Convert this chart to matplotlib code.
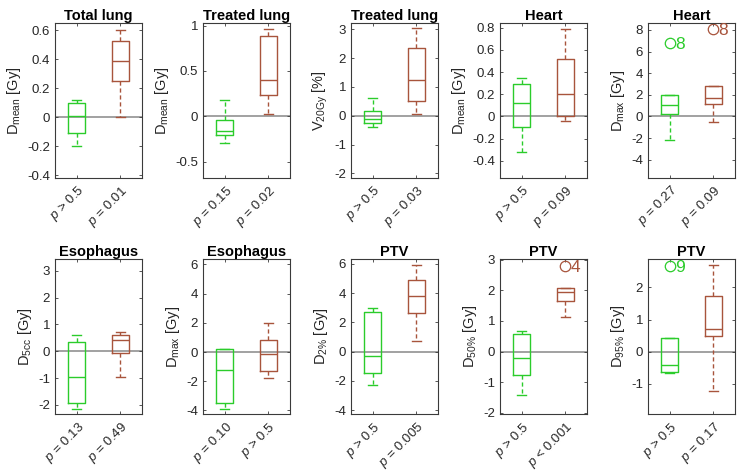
import matplotlib
matplotlib.use("Agg")
import matplotlib.pyplot as plt

plt.rcParams['font.family'] = ['Liberation Sans', 'DejaVu Sans']
plt.rcParams['mathtext.fontset'] = 'custom'
plt.rcParams['mathtext.rm'] = 'Liberation Sans'
plt.rcParams['mathtext.it'] = 'Liberation Sans:italic'
plt.rcParams['axes.unicode_minus'] = False

titles = ["Total lung", "Treated lung", "Treated lung", "Heart", "Heart",
          "Esophagus", "Esophagus", "PTV", "PTV", "PTV"]
ylabels = [r"D$_{\mathrm{mean}}$ [Gy]", r"D$_{\mathrm{mean}}$ [Gy]", r"V$_{\mathrm{20Gy}}$ [%]",
           r"D$_{\mathrm{mean}}$ [Gy]", r"D$_{\mathrm{max}}$ [Gy]",
           r"D$_{\mathrm{5cc}}$ [Gy]", r"D$_{\mathrm{max}}$ [Gy]", r"D$_{\mathrm{2\%}}$ [Gy]",
           r"D$_{\mathrm{50\%}}$ [Gy]", r"D$_{\mathrm{95\%}}$ [Gy]"]
pvals_green = ["> 0.5", "= 0.15", "> 0.5", "> 0.5", "= 0.27",
               "= 0.13", "= 0.10", "> 0.5", "> 0.5", "> 0.5"]
pvals_brown = ["= 0.01", "= 0.02", "= 0.03", "= 0.09", "= 0.09",
               "= 0.49", "> 0.5", "= 0.005", "< 0.001", "= 0.17"]

# stats: (whislo, q1, med, q3, whishi)
green_stats = [(-0.20, -0.11, 0.01, 0.097, 0.12),
               (-0.29, -0.21, -0.16, -0.04, 0.18),
               (-0.38, -0.24, -0.10, 0.15, 0.61),
               (-0.32, -0.10, 0.12, 0.29, 0.35),
               (-2.14, 0.25, 1.02, 2.0, 2.0),
               (-2.15, -1.92, -0.95, 0.35, 0.59),
               (-3.92, -3.50, -1.25, 0.20, 0.20),
               (-2.30, -1.47, -0.28, 2.74, 2.97),
               (-1.42, -0.77, -0.21, 0.56, 0.68),
               (-0.67, -0.65, -0.41, 0.43, 0.43)]
brown_stats = [(0.0, 0.25, 0.39, 0.527, 0.60),
               (0.03, 0.23, 0.395, 0.88, 0.96),
               (0.06, 0.51, 1.25, 2.35, 3.05),
               (-0.04, 0.0, 0.20, 0.52, 0.785),
               (-0.50, 1.18, 1.67, 2.85, 2.85),
               (-0.97, -0.06, 0.41, 0.59, 0.71),
               (-1.78, -1.27, -0.12, 0.83, 2.0),
               (0.71, 2.67, 3.82, 4.9, 5.95),
               (1.14, 1.66, 1.93, 2.06, 2.06),
               (-1.23, 0.50, 0.72, 1.72, 2.71)]
green_outliers = [[], [], [], [], [6.82], [], [], [], [], [2.66]]
brown_outliers = [[], [], [], [], [8.06], [], [], [], [2.78], []]
outlier_labels_green = ["", "", "", "", "8", "", "", "", "", "9"]
outlier_labels_brown = ["", "", "", "", "8", "", "", "", "4", ""]

ylims = [(-0.42, 0.65), (-0.68, 1.03), (-2.16, 3.22), (-0.557, 0.845), (-5.7, 8.65),
         (-2.34, 3.44), (-4.25, 6.37), (-4.28, 6.34), (-2.04, 3.02), (-1.95, 2.89)]
yticks = [[-0.4, -0.2, 0, 0.2, 0.4, 0.6], [-0.5, 0, 0.5, 1], [-2, -1, 0, 1, 2, 3],
          [-0.4, -0.2, 0, 0.2, 0.4, 0.6, 0.8], [-4, -2, 0, 2, 4, 6, 8],
          [-2, -1, 0, 1, 2, 3], [-4, -2, 0, 2, 4, 6], [-4, -2, 0, 2, 4, 6],
          [-2, -1, 0, 1, 2, 3], [-1, 0, 1, 2]]
yticklabels = [["-0.4", "-0.2", "0", "0.2", "0.4", "0.6"], ["-0.5", "0", "0.5", "1"],
               ["-2", "-1", "0", "1", "2", "3"],
               ["-0.4", "-0.2", "0", "0.2", "0.4", "0.6", "0.8"],
               ["-4", "-2", "0", "2", "4", "6", "8"], ["-2", "-1", "0", "1", "2", "3"],
               ["-4", "-2", "0", "2", "4", "6"], ["-4", "-2", "0", "2", "4", "6"],
               ["-2", "-1", "0", "1", "2", "3"], ["-1", "0", "1", "2"]]

GREEN = "#2bcc2b"
BROWN = "#a8543c"
SPINE = "#3a3a3a"

fig = plt.figure(figsize=(7.47, 4.76), dpi=100)
lefts = [0.0736, 0.2718, 0.4699, 0.6693, 0.8675]
width = 0.1165
bottoms = [0.626, 0.130]
height = 0.326

for i in range(10):
    r, c = divmod(i, 5)
    ax = fig.add_axes([lefts[c], bottoms[r], width, height])
    ax.axhline(0, color="#9a9a9a", lw=1.3, zorder=1)
    for pos, st, outl, col in [(1, green_stats[i], green_outliers[i], GREEN),
                               (2, brown_stats[i], brown_outliers[i], BROWN)]:
        lo, q1, med, q3, hi = st
        stats = [dict(whislo=lo, q1=q1, med=med, q3=q3, whishi=hi, fliers=outl)]
        ax.bxp(stats, positions=[pos], widths=0.4, capwidths=0.2,
               boxprops=dict(color=col, lw=1.0),
               medianprops=dict(color=col, lw=1.0),
               whiskerprops=dict(color=col, lw=1.0, linestyle=(0, (3, 2))),
               capprops=dict(color=col, lw=1.0),
               flierprops=dict(marker='o', markerfacecolor='none', markeredgecolor=col,
                               markersize=7.5, markeredgewidth=0.9),
               manage_ticks=False, zorder=2)
    for pos, outl, labs, col in [(1, green_outliers[i], outlier_labels_green[i], GREEN),
                                 (2, brown_outliers[i], outlier_labels_brown[i], BROWN)]:
        for v in outl:
            ax.text(pos + 0.12, v, labs, color=col, fontsize=12.5,
                    va='center_baseline', ha='left')
    ax.set_xlim(0.5, 2.5)
    ax.set_ylim(*ylims[i])
    ax.set_yticks(yticks[i])
    ax.set_yticklabels(yticklabels[i])
    ax.set_xticks([1, 2])
    ax.set_xticklabels(["$p$ " + pvals_green[i], "$p$ " + pvals_brown[i]],
                       rotation=45, ha='right', rotation_mode='anchor')
    ax.tick_params(direction='in', length=2.5, width=0.6, colors=SPINE, labelsize=9.5,
                   top=True, right=True, labelcolor="#262626")
    for s in ax.spines.values():
        s.set_color(SPINE)
        s.set_linewidth(0.8)
    ax.set_title(titles[i], fontsize=10.5, fontweight='bold', pad=2)
    ax.set_ylabel(ylabels[i], fontsize=10.5, color="#262626", labelpad=3)

fig.savefig("out.png", dpi=100)
